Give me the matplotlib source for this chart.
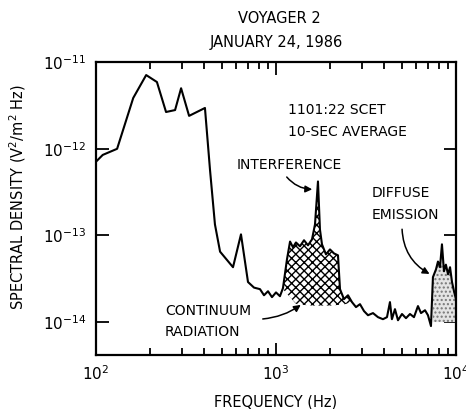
import numpy as np
import matplotlib
matplotlib.use("Agg")
import matplotlib.pyplot as plt
from matplotlib.ticker import NullFormatter

# spectrum (Hz, V^2/m^2 Hz)
freq = [100, 109, 131, 161, 190, 218, 245, 275, 297, 329, 403, 430, 458,
        489, 577, 639, 699, 755, 815, 858, 903, 950, 1000, 1052, 1093,
        1151, 1197, 1243, 1291, 1359, 1431, 1506, 1585, 1647, 1711, 1755,
        1801, 1895, 1995, 2100, 2210, 2268, 2386, 2512, 2644, 2783, 2929,
        3083, 3245, 3459, 3687, 3929, 4137, 4297, 4406, 4581, 4762, 5012,
        5275, 5552, 5843, 6149, 6393, 6728, 6988, 7262, 7447, 7743, 7943,
        8150, 8358, 8577, 8790, 9036, 9268, 9504, 9750, 10000]
density = [7.1e-13, 8.5e-13, 1.0e-12, 3.86e-12, 7.1e-12, 5.9e-12, 2.66e-12,
           2.8e-12, 5.0e-12, 2.4e-12, 2.96e-12, 5.7e-13, 1.34e-13,
           6.5e-14, 4.3e-14, 1.03e-13, 2.9e-14, 2.5e-14, 2.4e-14, 2.04e-14,
           2.27e-14, 1.94e-14, 2.2e-14, 1.99e-14, 2.46e-14,
           5.3e-14, 8.5e-14, 7.3e-14, 8.3e-14, 7.5e-14, 8.8e-14, 7.7e-14,
           9.0e-14, 1.34e-13, 4.2e-13, 1.17e-13,
           7.9e-14, 6.05e-14, 6.9e-14, 6.2e-14, 5.9e-14, 2.4e-14, 1.84e-14,
           2.04e-14, 1.7e-14, 1.49e-14, 1.61e-14,
           1.34e-14, 1.2e-14, 1.27e-14, 1.14e-14, 1.08e-14, 1.14e-14, 1.7e-14,
           1.08e-14, 1.41e-14, 1.05e-14, 1.24e-14,
           1.11e-14, 1.24e-14, 1.14e-14, 1.53e-14, 1.27e-14, 1.37e-14, 1.2e-14,
           9.0e-15, 3.3e-14, 4.06e-14, 5.0e-14,
           4.3e-14, 7.9e-14, 3.86e-14, 4.6e-14, 3.56e-14, 4.3e-14, 2.9e-14,
           2.27e-14, 1.84e-14]

# background level under the continuum radiation bump
bg_freq = [1093, 1300, 1600, 2000, 2400, 2650]
bg_density = [2.4e-14, 1.6e-14, 1.55e-14, 1.55e-14, 1.6e-14, 1.7e-14]

# diffuse emission band
diffuse_range = (7300, 10000)
diffuse_floor = 1.0e-14

# x axis ticks
x_major = [1e2, 1e3, 1e4]
x_labels = [r"$10^2$", r"$10^3$", r"$10^4$"]
x_minor = [k * 10 ** e for e in (2, 3) for k in range(2, 10)]

plt.rcParams["font.family"] = "DejaVu Sans"
plt.rcParams["hatch.linewidth"] = 1.0

fig = plt.figure(figsize=(4.66, 4.09), dpi=100)
ax = fig.add_axes([0.206, 0.132, 0.7725, 0.716])

f = np.array(freq, dtype=float)
d = np.array(density, dtype=float)

ax.plot(f, d, color="black", linewidth=1.5, zorder=3)
ax.set_xscale("log")
ax.set_yscale("log")
ax.set_xlim(100, 1e4)
ax.set_ylim(10 ** -14.38, 1e-11)

# continuum radiation: curve above the background level
lf = np.log10(f)
mask = (f >= bg_freq[0]) & (f <= bg_freq[-1])
bg_on_f = 10 ** np.interp(lf[mask], np.log10(bg_freq), np.log10(bg_density))
top = np.maximum(d[mask], bg_on_f)
ax.fill_between(f[mask], bg_on_f, top, facecolor="white", edgecolor="black",
                hatch="xxxx", linewidth=0, zorder=2)

# diffuse emission: stippled
mask2 = (f >= diffuse_range[0]) & (f <= diffuse_range[1])
ax.fill_between(f[mask2], diffuse_floor, d[mask2], facecolor="#e4e4e4",
                edgecolor="#777777", hatch="....", linewidth=0, zorder=2)

ax.set_xticks(x_major)
ax.set_xticklabels(x_labels)
ax.set_xticks(x_minor, minor=True)
ax.xaxis.set_minor_formatter(NullFormatter())
ax.tick_params(which="both", direction="in", top=True, right=True,
               width=1.3, labelsize=11, colors="black")
ax.tick_params(which="major", length=9, pad=7)
ax.tick_params(which="minor", length=5)
ax.tick_params(axis="y", which="minor", length=0)
for s in ax.spines.values():
    s.set_linewidth(1.6)

ax.set_xlabel("FREQUENCY (Hz)", fontsize=10.5, labelpad=8)
ax.set_ylabel(r"SPECTRAL DENSITY (V$^2$/m$^2$ Hz)", fontsize=10.5, labelpad=6)
ax.yaxis.set_label_coords(-0.19, 0.54)

fig.text(0.6, 0.955, "VOYAGER 2", ha="center", va="center", fontsize=10.5)
fig.text(0.593, 0.897, "JANUARY 24, 1986", ha="center", va="center", fontsize=10.5)

txt = dict(fontsize=10, va="center", color="black")
ax.text(1166, 2.8e-12, "1101:22 SCET", ha="left", **txt)
ax.text(1166, 1.57e-12, "10-SEC AVERAGE", ha="left", **txt)
ax.text(1180, 6.5e-13, "INTERFERENCE", ha="center", **txt)
ax.text(3415, 3.12e-13, "DIFFUSE", ha="left", **txt)
ax.text(3415, 1.74e-13, "EMISSION", ha="left", **txt)
ax.text(242, 1.34e-14, "CONTINUUM", ha="left", **txt)
ax.text(242, 7.7e-15, "RADIATION", ha="left", **txt)

arrow = dict(arrowstyle="-|>", color="black", lw=1.1, mutation_scale=10)
ax.annotate("", xy=(1647, 3.4e-13), xytext=(1122, 5.0e-13),
            arrowprops=dict(connectionstyle="arc3,rad=0.25", **arrow))
ax.annotate("", xy=(7356, 3.47e-14), xytext=(5012, 1.27e-13),
            arrowprops=dict(connectionstyle="arc3,rad=0.3", **arrow))
ax.annotate("", xy=(1413, 1.65e-14), xytext=(815, 1.08e-14),
            arrowprops=dict(connectionstyle="arc3,rad=0.15", **arrow))

fig.savefig("out.png", dpi=100)
